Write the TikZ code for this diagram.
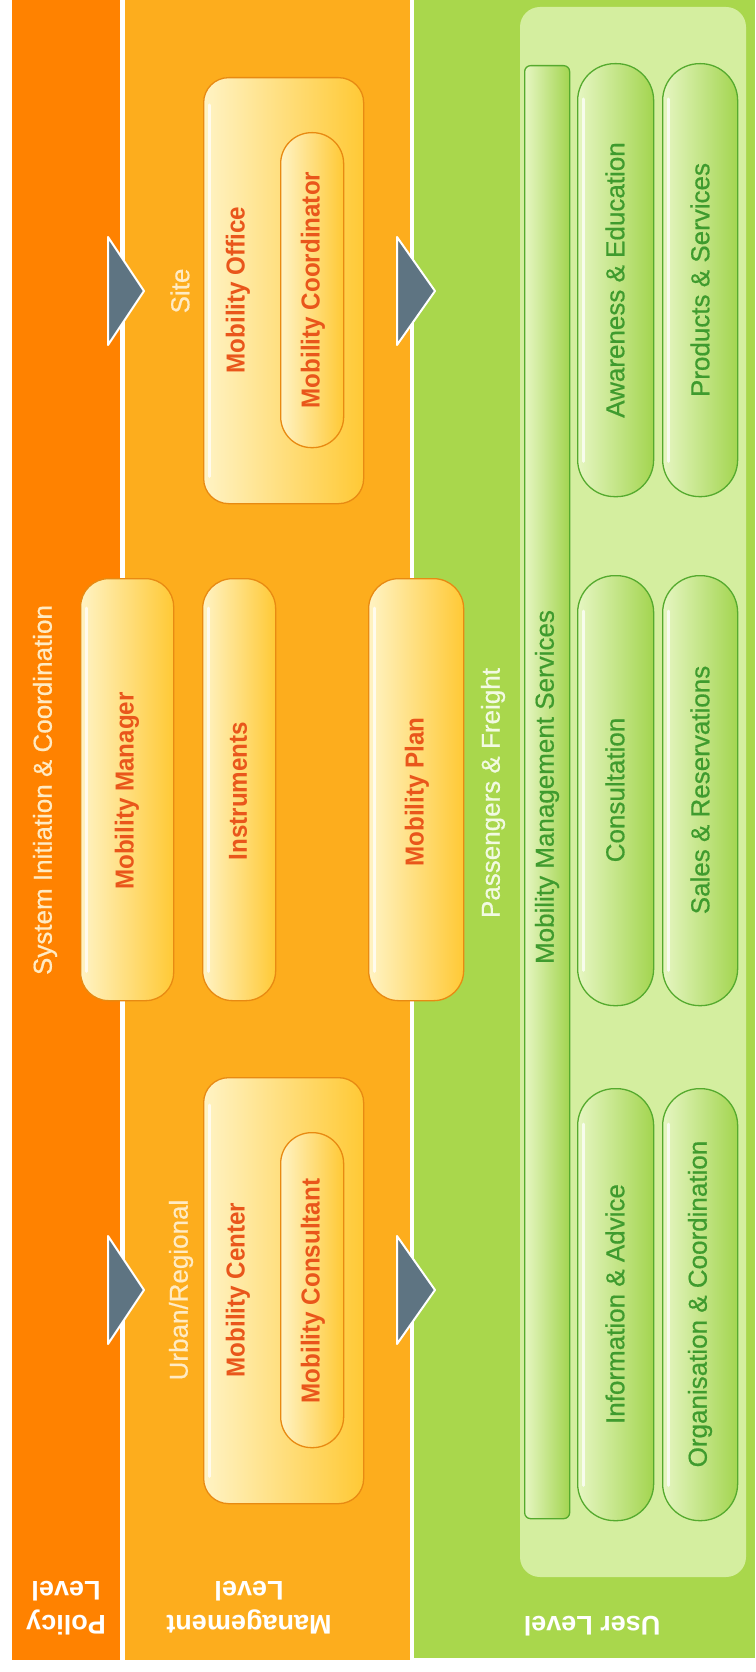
\documentclass[tikz,border=0pt]{standalone}
\usepackage{fontspec}
\setmainfont{Liberation Sans}
\newfontfamily\boxfont{Liberation Sans}[FakeStretch=0.93]
\newfontfamily\medfont{Liberation Sans}[FakeBold=0.6]
\definecolor{policyc}{HTML}{FF8200}
\definecolor{mgmtc}{HTML}{FDAD1D}
\definecolor{userc}{HTML}{A9D74C}
\definecolor{panelc}{HTML}{D4EE9F}
\definecolor{olight}{HTML}{FFF3C4}
\definecolor{odark}{HTML}{FFC935}
\definecolor{oedge}{HTML}{E88A12}
\definecolor{otxt}{HTML}{E9561B}
\definecolor{glight}{HTML}{E6F6C2}
\definecolor{gdark}{HTML}{A3D550}
\definecolor{gedge}{HTML}{55AA2E}
\definecolor{gtxt}{HTML}{3F9B2E}
\definecolor{creamtxt}{HTML}{FFEBC4}
\definecolor{paletxt}{HTML}{F2FAE2}
\definecolor{slate}{HTML}{5E7482}
\tikzset{
  column/.style={draw=none, inner sep=0pt, outer sep=0pt, anchor=north west},
  obox/.style={draw=oedge, line width=1.3pt, left color=olight, right color=odark, inner sep=0pt, anchor=north west},
  gpill/.style={draw=gedge, line width=1.3pt, left color=glight, right color=gdark, inner sep=0pt, anchor=north west},
  hl/.style={white, line width=3pt, opacity=0.75, line cap=round},
  otext/.style={text=otxt, font=\boxfont\bfseries\fontsize{26}{30}\selectfont, rotate=90, inner sep=0pt},
  gtext/.style={text=gtxt, font=\medfont\fontsize{26}{30}\selectfont, rotate=90, inner sep=0pt},
  lbltext/.style={text=creamtxt, font=\medfont\fontsize{26}{30}\selectfont, rotate=90, inner sep=0pt},
  leveltext/.style={text=white, font=\bfseries\fontsize{27}{34}\selectfont, rotate=180, align=center, inner sep=0pt},
  arrowtri/.style={fill=slate, draw=white, line width=2pt, line join=round}
}
\begin{document}
\begin{tikzpicture}[x=1pt,y=-1pt]
\useasboundingbox (0,0) rectangle (755,1672);
\fill[white] (0,0) rectangle (755,1672);
% columns
\node[column, fill=policyc, minimum width=108pt, minimum height=1660pt] (policy) at (12,0) {};
\node[column, fill=mgmtc, minimum width=285pt, minimum height=1660pt] (mgmt) at (124.5,0) {};
\node[column, fill=userc, minimum width=341pt, minimum height=1658pt] (user) at (414,0) {};
% light panel
\node[column, fill=panelc, rounded corners=20pt, minimum width=226pt, minimum height=1570pt] (panel) at (520,7) {};

% arrows
\filldraw[arrowtri] (108,237) -- (144,291) -- (108,345) -- cycle;
\filldraw[arrowtri] (397,237) -- (435,291) -- (397,345) -- cycle;
\filldraw[arrowtri] (108,1236) -- (144,1290) -- (108,1344) -- cycle;
\filldraw[arrowtri] (397,1236) -- (435,1290) -- (397,1344) -- cycle;

% orange boxes
\node[obox, rounded corners=25pt, minimum width=160pt, minimum height=426pt] (office) at (203,77) {};
\draw[hl] ([xshift=6pt,yshift=-28pt]office.north west) -- ([xshift=6pt,yshift=28pt]office.south west);
\node[obox, rounded corners=31pt, minimum width=63pt, minimum height=315pt] (coord) at (280,132) {};
\node[obox, rounded corners=25pt, minimum width=160pt, minimum height=426pt] (center) at (203,1077) {};
\draw[hl] ([xshift=6pt,yshift=-28pt]center.north west) -- ([xshift=6pt,yshift=28pt]center.south west);
\node[obox, rounded corners=31pt, minimum width=63pt, minimum height=315pt] (consult) at (280,1132) {};
\node[obox, rounded corners=28pt, minimum width=93pt, minimum height=422pt] (manager) at (80,578) {};
\draw[hl] ([xshift=6pt,yshift=-30pt]manager.north west) -- ([xshift=6pt,yshift=30pt]manager.south west);
\node[obox, rounded corners=30pt, minimum width=73pt, minimum height=422pt] (instr) at (202,578) {};
\draw[hl] ([xshift=6pt,yshift=-30pt]instr.north west) -- ([xshift=6pt,yshift=30pt]instr.south west);
\node[obox, rounded corners=30pt, minimum width=95pt, minimum height=422pt] (plan) at (368,578) {};
\draw[hl] ([xshift=6pt,yshift=-30pt]plan.north west) -- ([xshift=6pt,yshift=30pt]plan.south west);

% green boxes
\node[gpill, rounded corners=6pt, minimum width=45pt, minimum height=1453pt] (mms) at (524,65) {};
\node[gpill, rounded corners=37pt, minimum width=76pt, minimum height=433pt] (aware) at (577,63) {};
\node[gpill, rounded corners=37pt, minimum width=75pt, minimum height=433pt] (prod) at (662,63) {};
\node[gpill, rounded corners=37pt, minimum width=76pt, minimum height=430pt] (cons) at (577,575) {};
\node[gpill, rounded corners=37pt, minimum width=75pt, minimum height=430pt] (sales) at (662,575) {};
\node[gpill, rounded corners=37pt, minimum width=76pt, minimum height=432pt] (info) at (577,1088) {};
\node[gpill, rounded corners=37pt, minimum width=75pt, minimum height=432pt] (orga) at (662,1088) {};
\foreach \n in {aware,prod,cons,sales,info,orga}{
  \draw[hl] ([xshift=6pt,yshift=-36pt]\n.north west) -- ([xshift=6pt,yshift=36pt]\n.south west);
}

% column labels
\node[lbltext] (sysinit) at (45,790) {System Initiation \& Coordination};
\node[lbltext] (site) at (180,291) {Site};
\node[lbltext] (urban) at (181,1290) {Urban/Regional};
\node[lbltext, text=paletxt] (pass) at (493,793) {Passengers \& Freight};

% orange texts
\node[otext] (t-office) at (238,290) {Mobility Office};
\node[otext] (t-coord) at (313,290) {Mobility Coordinator};
\node[otext] (t-center) at (238,1290) {Mobility Center};
\node[otext] (t-consult) at (313,1291) {Mobility Consultant};
\node[otext] (t-manager) at (127,791) {Mobility Manager};
\node[otext] (t-instr) at (238,791) {Instruments};
\node[otext] (t-plan) at (417,792) {Mobility Plan};

% green texts
\node[gtext] (t-mms) at (547,787) {Mobility Management Services};
\node[gtext] (t-aware) at (615,280) {Awareness \& Education};
\node[gtext] (t-prod) at (700,280) {Products \& Services};
\node[gtext] (t-cons) at (615,790) {Consultation};
\node[gtext] (t-sales) at (700,790) {Sales \& Reservations};
\node[gtext] (t-info) at (615,1304) {Information \& Advice};
\node[gtext] (t-orga) at (700,1304) {Organisation \& Coordination};

% level labels
\node[leveltext] (lv-policy) at (66,1608) {Policy\\Level};
\node[leveltext] (lv-mgmt) at (249,1608) {Management\\Level};
\node[leveltext] (lv-user) at (592,1626) {User Level};
\end{tikzpicture}
\end{document}
